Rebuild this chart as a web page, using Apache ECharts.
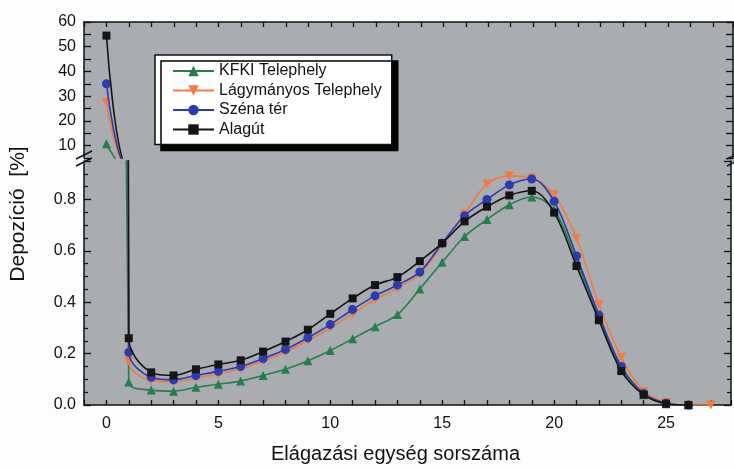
<!DOCTYPE html>
<html>
<head>
<meta charset="utf-8">
<script src="https://cdn.jsdelivr.net/npm/echarts@6/dist/echarts.min.js"></script>
<style>
html,body{margin:0;padding:0;background:#fdfdfd;}
#chart{width:734px;height:469px;}
</style>
</head>
<body>
<div id="chart"></div>
<script>
// Branching generation index (x values)
var branch = [0,1,2,3,4,5,6,7,8,9,10,11,12,13,14,15,16,17,18,19,20,21,22,23,24,25,26,27];

var seriesNames = ['KFKI Telephely', 'Lágymányos Telephely', 'Széna tér', 'Alagút'];

// Deposition [%] per generation
var kfki   = [10.8, 0.09, 0.058, 0.054, 0.069, 0.081, 0.093, 0.115, 0.139, 0.172, 0.212, 0.258, 0.305, 0.352, 0.452, 0.556, 0.656, 0.722, 0.78, 0.81, 0.76, 0.56, 0.34, 0.14, 0.04, 0.005, 0.0];
var lagy   = [27.5, 0.17, 0.095, 0.09, 0.105, 0.12, 0.14, 0.17, 0.205, 0.25, 0.30, 0.355, 0.41, 0.455, 0.51, 0.625, 0.745, 0.86, 0.892, 0.884, 0.818, 0.649, 0.391, 0.185, 0.053, 0.01, 0.0, 0.0];
var szena  = [35.0, 0.205, 0.108, 0.098, 0.115, 0.131, 0.15, 0.181, 0.216, 0.262, 0.313, 0.372, 0.425, 0.467, 0.518, 0.63, 0.737, 0.80, 0.857, 0.88, 0.793, 0.58, 0.35, 0.15, 0.045, 0.007, 0.0];
var alagut = [54.5, 0.26, 0.127, 0.115, 0.139, 0.158, 0.174, 0.208, 0.247, 0.293, 0.355, 0.415, 0.467, 0.498, 0.56, 0.63, 0.715, 0.772, 0.816, 0.834, 0.749, 0.541, 0.33, 0.132, 0.04, 0.005, 0.0];

// Axis tick labels
var upperTickLabels = [10, 20, 30, 40, 50, 60];
var lowerTickLabels = [0.0, 0.2, 0.4, 0.6, 0.8];
var xTickLabels = [0, 5, 10, 15, 20, 25];

var colors = ['#24804a', '#f47b3c', '#2c3bb0', '#151515'];
var symbols = ['triangle', 'triangle', 'circle', 'rect'];
var rotations = [0, 180, 0, 0];
var sizes = [9, 9, 9, 8];
var values = [kfki, lagy, szena, alagut];

var FONT = 'Liberation Sans, Arial, sans-serif';
var AXC = '#111';

function pairs(v) { return v.map(function (y, i) { return [branch[i], y]; }); }
function near(v, list) { for (var i = 0; i < list.length; i++) { if (Math.abs(v - list[i]) < 1e-6) return true; } return false; }

var chart = echarts.init(document.getElementById('chart'), null, {renderer: 'canvas'});

function xAx(gridIndex, pos, showLabels) {
  return {
    type: 'value', gridIndex: gridIndex, position: pos, min: -1, max: 27.9, interval: 1,
    axisLine: {show: true, onZero: false, lineStyle: {color: AXC, width: 1.5}},
    axisTick: {show: true, inside: true, length: 5, lineStyle: {color: AXC, width: 1.3}},
    axisLabel: {show: showLabels, margin: 11, fontFamily: FONT, fontSize: 16, color: AXC,
      formatter: function (v) { return near(v, xTickLabels) ? String(v) : ''; }},
    splitLine: {show: false},
    name: showLabels ? 'Elágazási egység sorszáma' : '',
    nameLocation: 'middle', nameGap: 39,
    nameTextStyle: {fontFamily: FONT, fontSize: 20, color: AXC, padding: [0, 24, 0, 0]}
  };
}
function yAx(gridIndex, pos, min, max, interval, labels, minor, fmt) {
  return {
    type: 'value', gridIndex: gridIndex, position: pos, min: min, max: max, interval: interval,
    axisLine: {show: true, onZero: false, lineStyle: {color: AXC, width: 1.5}},
    axisTick: {show: true, inside: true, length: 7, lineStyle: {color: AXC, width: 1.3}},
    minorTick: {show: minor, splitNumber: 4, length: 4, lineStyle: {color: AXC, width: 1.2}},
    axisLabel: {show: pos === 'left', margin: 8, fontFamily: FONT, fontSize: 16, color: AXC,
      formatter: function (v) { return near(v, labels) ? fmt(v) : ''; }},
    splitLine: {show: false}
  };
}

var series = [];
for (var g = 0; g < 2; g++) {
  for (var s = 0; s < 4; s++) {
    series.push({
      name: seriesNames[s], type: 'line',
      xAxisIndex: g, yAxisIndex: g === 0 ? 0 : 2,
      data: pairs(values[s]),
      smooth: 0.35, clip: true,
      symbol: symbols[s], symbolSize: sizes[s], symbolRotate: rotations[s],
      showAllSymbol: true,
      lineStyle: {color: colors[s], width: 1.6},
      itemStyle: {color: colors[s]},
      emphasis: {disabled: true},
      z: 3 + s
    });
  }
}

var option = {
  backgroundColor: '#fdfdfd',
  animation: false,
  grid: [
    {left: 84, right: 1, top: 22, height: 136, show: true, backgroundColor: '#a9acb0', borderWidth: 0},
    {left: 84, right: 1, top: 161, bottom: 62, show: true, backgroundColor: '#a9acb0', borderWidth: 0}
  ],
  xAxis: [xAx(0, 'top', false), xAx(1, 'bottom', true)],
  yAxis: [
    yAx(0, 'left', 5, 60, 5, upperTickLabels, false, function (v) { return String(v); }),
    yAx(0, 'right', 5, 60, 5, upperTickLabels, false, function (v) { return String(v); }),
    yAx(1, 'left', 0, 0.95, 0.2, lowerTickLabels, true, function (v) { return v.toFixed(1); }),
    yAx(1, 'right', 0, 0.95, 0.2, lowerTickLabels, true, function (v) { return v.toFixed(1); })
  ],
  legend: {
    orient: 'vertical', left: 155, top: 55,
    data: seriesNames,
    itemWidth: 41, itemHeight: 13, itemGap: 3.5,
    padding: [8, 10, 7, 17],
    backgroundColor: '#ffffff', borderColor: '#111', borderWidth: 1.5,
    shadowColor: '#000', shadowBlur: 0, shadowOffsetX: 6, shadowOffsetY: 6,
    textStyle: {fontFamily: FONT, fontSize: 16, color: '#111', lineHeight: 16},
    selectedMode: false
  },
  graphic: [
    {type: 'rect', shape: {x: 84, y: 157, width: 650, height: 5}, style: {fill: '#a9acb0'}, z: -1, silent: true},
    {type: 'line', shape: {x1: 76, y1: 159, x2: 92, y2: 151}, style: {stroke: '#111', lineWidth: 1.5}, z: 100},
    {type: 'line', shape: {x1: 76, y1: 166, x2: 92, y2: 158}, style: {stroke: '#111', lineWidth: 1.5}, z: 100},
    {type: 'line', shape: {x1: 727, y1: 159, x2: 743, y2: 151}, style: {stroke: '#111', lineWidth: 1.5}, z: 100},
    {type: 'line', shape: {x1: 727, y1: 166, x2: 743, y2: 158}, style: {stroke: '#111', lineWidth: 1.5}, z: 100},
    {type: 'text', x: 18, y: 214, rotation: Math.PI / 2,
      style: {text: 'Depozíció  [%]', font: '21px Liberation Sans, Arial, sans-serif', fill: '#111',
        textAlign: 'center', textVerticalAlign: 'middle'}, z: 100}
  ],
  series: series
};
chart.setOption(option);
</script>
</body>
</html>
